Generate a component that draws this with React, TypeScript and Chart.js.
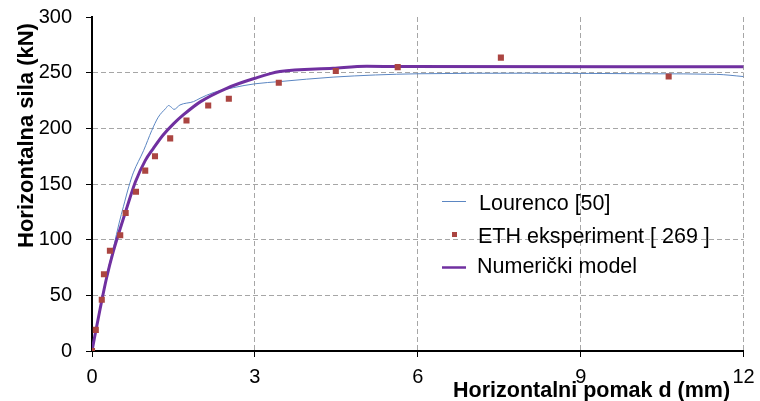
import React, { useEffect, useRef } from "react";
import { Chart, registerables } from "chart.js";

Chart.register(...registerables);

// Lourenco [50]
const lourencoD = [0, 0.1, 0.2, 0.3, 0.4, 0.5, 0.58, 0.68, 0.76, 0.95, 1.1, 1.22, 1.36, 1.41, 1.46, 1.51, 1.62, 1.87, 1.99, 2.23, 2.6, 3.0, 3.46, 4.44, 6.0, 8.0, 10.3, 11.5, 12];
const lourencoF = [0, 25, 51, 74, 94, 115, 130, 148, 160, 180, 198, 210, 218, 220.5, 219, 217, 221, 224, 227, 232, 236.5, 240, 242, 246, 249, 249.5, 249, 248.5, 246.5];

// ETH eksperiment [ 269 ]
const ethD = [0, 0.07, 0.18, 0.22, 0.33, 0.52, 0.62, 0.81, 0.98, 1.16, 1.44, 1.74, 2.14, 2.52, 3.44, 4.49, 5.63, 7.53, 10.62];
const ethF = [0, 19, 46, 69, 90, 104, 124, 143, 162, 175, 191, 207, 220.5, 226.5, 241, 251.5, 255, 263.5, 246.5];

// Numerički model
const numD = [0, 0.05, 0.15, 0.27, 0.39, 0.52, 0.65, 0.8, 0.98, 1.13, 1.31, 1.5, 1.68, 2.0, 2.48, 3.0, 3.46, 4.44, 5.06, 5.67, 12];
const numF = [0, 13, 38, 66, 89, 110, 130, 152, 171, 182, 194, 204, 212, 224, 236, 245, 251, 254, 255.8, 255.5, 255.3];

const xTicks = [0, 3, 6, 9, 12];
const yTicks = [0, 50, 100, 150, 200, 250, 300];

const xTitle = "Horizontalni pomak d (mm)";
const yTitle = "Horizontalna sila (kN)";
const labels = ["Lourenco [50]", "ETH eksperiment [ 269 ]", "Numerički model"];

const FONT = '"Liberation Sans", Arial, sans-serif';
const BLUE = "#5b86c2";
const RED = "#ab4541";
const PURPLE = "#7030a0";
const GRID = "#a6a6a6";

const toPts = (xs: number[], ys: number[]) => xs.map((x, i) => ({ x, y: ys[i] }));

const overlayPlugin = {
  id: "overlay",
  afterDraw(chart: any) {
    const ctx = chart.ctx as CanvasRenderingContext2D;
    ctx.save();
    ctx.fillStyle = "#000";
    ctx.font = `bold 21.5px ${FONT}`;
    ctx.textAlign = "left";
    ctx.textBaseline = "alphabetic";
    ctx.fillText(xTitle, 453, 397);
    ctx.save();
    ctx.translate(33, 248);
    ctx.rotate(-Math.PI / 2);
    ctx.font = `bold 22px ${FONT}`;
    ctx.fillText(yTitle, 0, 0);
    ctx.restore();

    ctx.font = `21.5px ${FONT}`;
    ctx.fillStyle = "#000";
    const rows = [201.5, 234.5, 267.5];
    const ds = chart.data.datasets;
    ctx.strokeStyle = ds[0].borderColor;
    ctx.lineWidth = 1;
    ctx.beginPath();
    ctx.moveTo(442, rows[0]);
    ctx.lineTo(466, rows[0]);
    ctx.stroke();
    ctx.fillText(labels[0], 479, 210);
    ctx.fillStyle = ds[1].backgroundColor;
    ctx.fillRect(452, rows[1] - 2.5, 5, 5);
    ctx.fillStyle = "#000";
    ctx.fillText(labels[1], 478, 242.5);
    ctx.strokeStyle = ds[2].borderColor;
    ctx.lineWidth = 2.5;
    ctx.beginPath();
    ctx.moveTo(442, rows[2]);
    ctx.lineTo(466, rows[2]);
    ctx.stroke();
    ctx.fillText(labels[2], 477, 273);
    ctx.restore();
  },
};

export default function App() {
  const ref = useRef<HTMLCanvasElement | null>(null);

  useEffect(() => {
    if (!ref.current) return;
    const chart = new Chart(ref.current, {
      type: "scatter",
      data: {
        datasets: [
          {
            label: labels[0],
            data: toPts(lourencoD, lourencoF),
            showLine: true,
            borderColor: BLUE,
            borderWidth: 1,
            pointRadius: 0,
            cubicInterpolationMode: "monotone",
            order: 3,
          } as any,
          {
            label: labels[1],
            data: toPts(ethD, ethF),
            showLine: false,
            backgroundColor: RED,
            borderColor: RED,
            borderWidth: 0,
            pointStyle: "rect",
            pointRadius: 4.3,
            order: 1,
          } as any,
          {
            label: labels[2],
            data: toPts(numD, numF),
            showLine: true,
            borderColor: PURPLE,
            borderWidth: 3,
            pointRadius: 0,
            cubicInterpolationMode: "monotone",
            order: 2,
          } as any,
        ],
      },
      options: {
        animation: false,
        responsive: true,
        maintainAspectRatio: false,
        layout: { padding: { left: 0, top: 17, right: 16.4, bottom: 0 } },
        plugins: {
          legend: { display: false },
          tooltip: { enabled: false },
          title: { display: false },
        },
        scales: {
          x: {
            type: "linear",
            min: 0,
            max: 12,
            afterBuildTicks: (s: any) => {
              s.ticks = xTicks.map((v) => ({ value: v }));
            },
            afterFit: (s: any) => {
              s.height = 50;
              s.paddingLeft = 0;
              s.paddingRight = 0;
            },
            ticks: {
              color: "#000",
              font: { family: FONT, size: 20 },
              padding: 8,
              maxRotation: 0,
            },
            grid: {
              color: (c: any) => (c.tick && c.tick.value === 0 ? "rgba(0,0,0,0)" : GRID),
              lineWidth: 1,
              tickLength: 6,
              tickColor: "#000",
              tickWidth: 1,
            },
            border: { display: true, color: "#000", width: 2, dash: [5, 3] },
          },
          y: {
            type: "linear",
            min: 0,
            max: 300,
            afterBuildTicks: (s: any) => {
              s.ticks = yTicks.map((v) => ({ value: v }));
            },
            afterFit: (s: any) => {
              s.width = 92;
              s.paddingTop = 0;
              s.paddingBottom = 0;
            },
            ticks: {
              color: "#000",
              font: { family: FONT, size: 20 },
              padding: 14,
            },
            grid: {
              color: (c: any) =>
                c.tick && (c.tick.value === 300 || c.tick.value === 0) ? "rgba(0,0,0,0)" : GRID,
              lineWidth: 1,
              tickLength: 6,
              tickColor: "#000",
              tickWidth: 1,
            },
            border: { display: true, color: "#000", width: 2, dash: [5, 3] },
          },
        },
      },
      plugins: [overlayPlugin],
    });
    return () => chart.destroy();
  }, []);

  return (
    <div style={{ position: "fixed", left: 0, top: 0, width: 760, height: 401, background: "#fff" }}>
      <canvas ref={ref} />
    </div>
  );
}
